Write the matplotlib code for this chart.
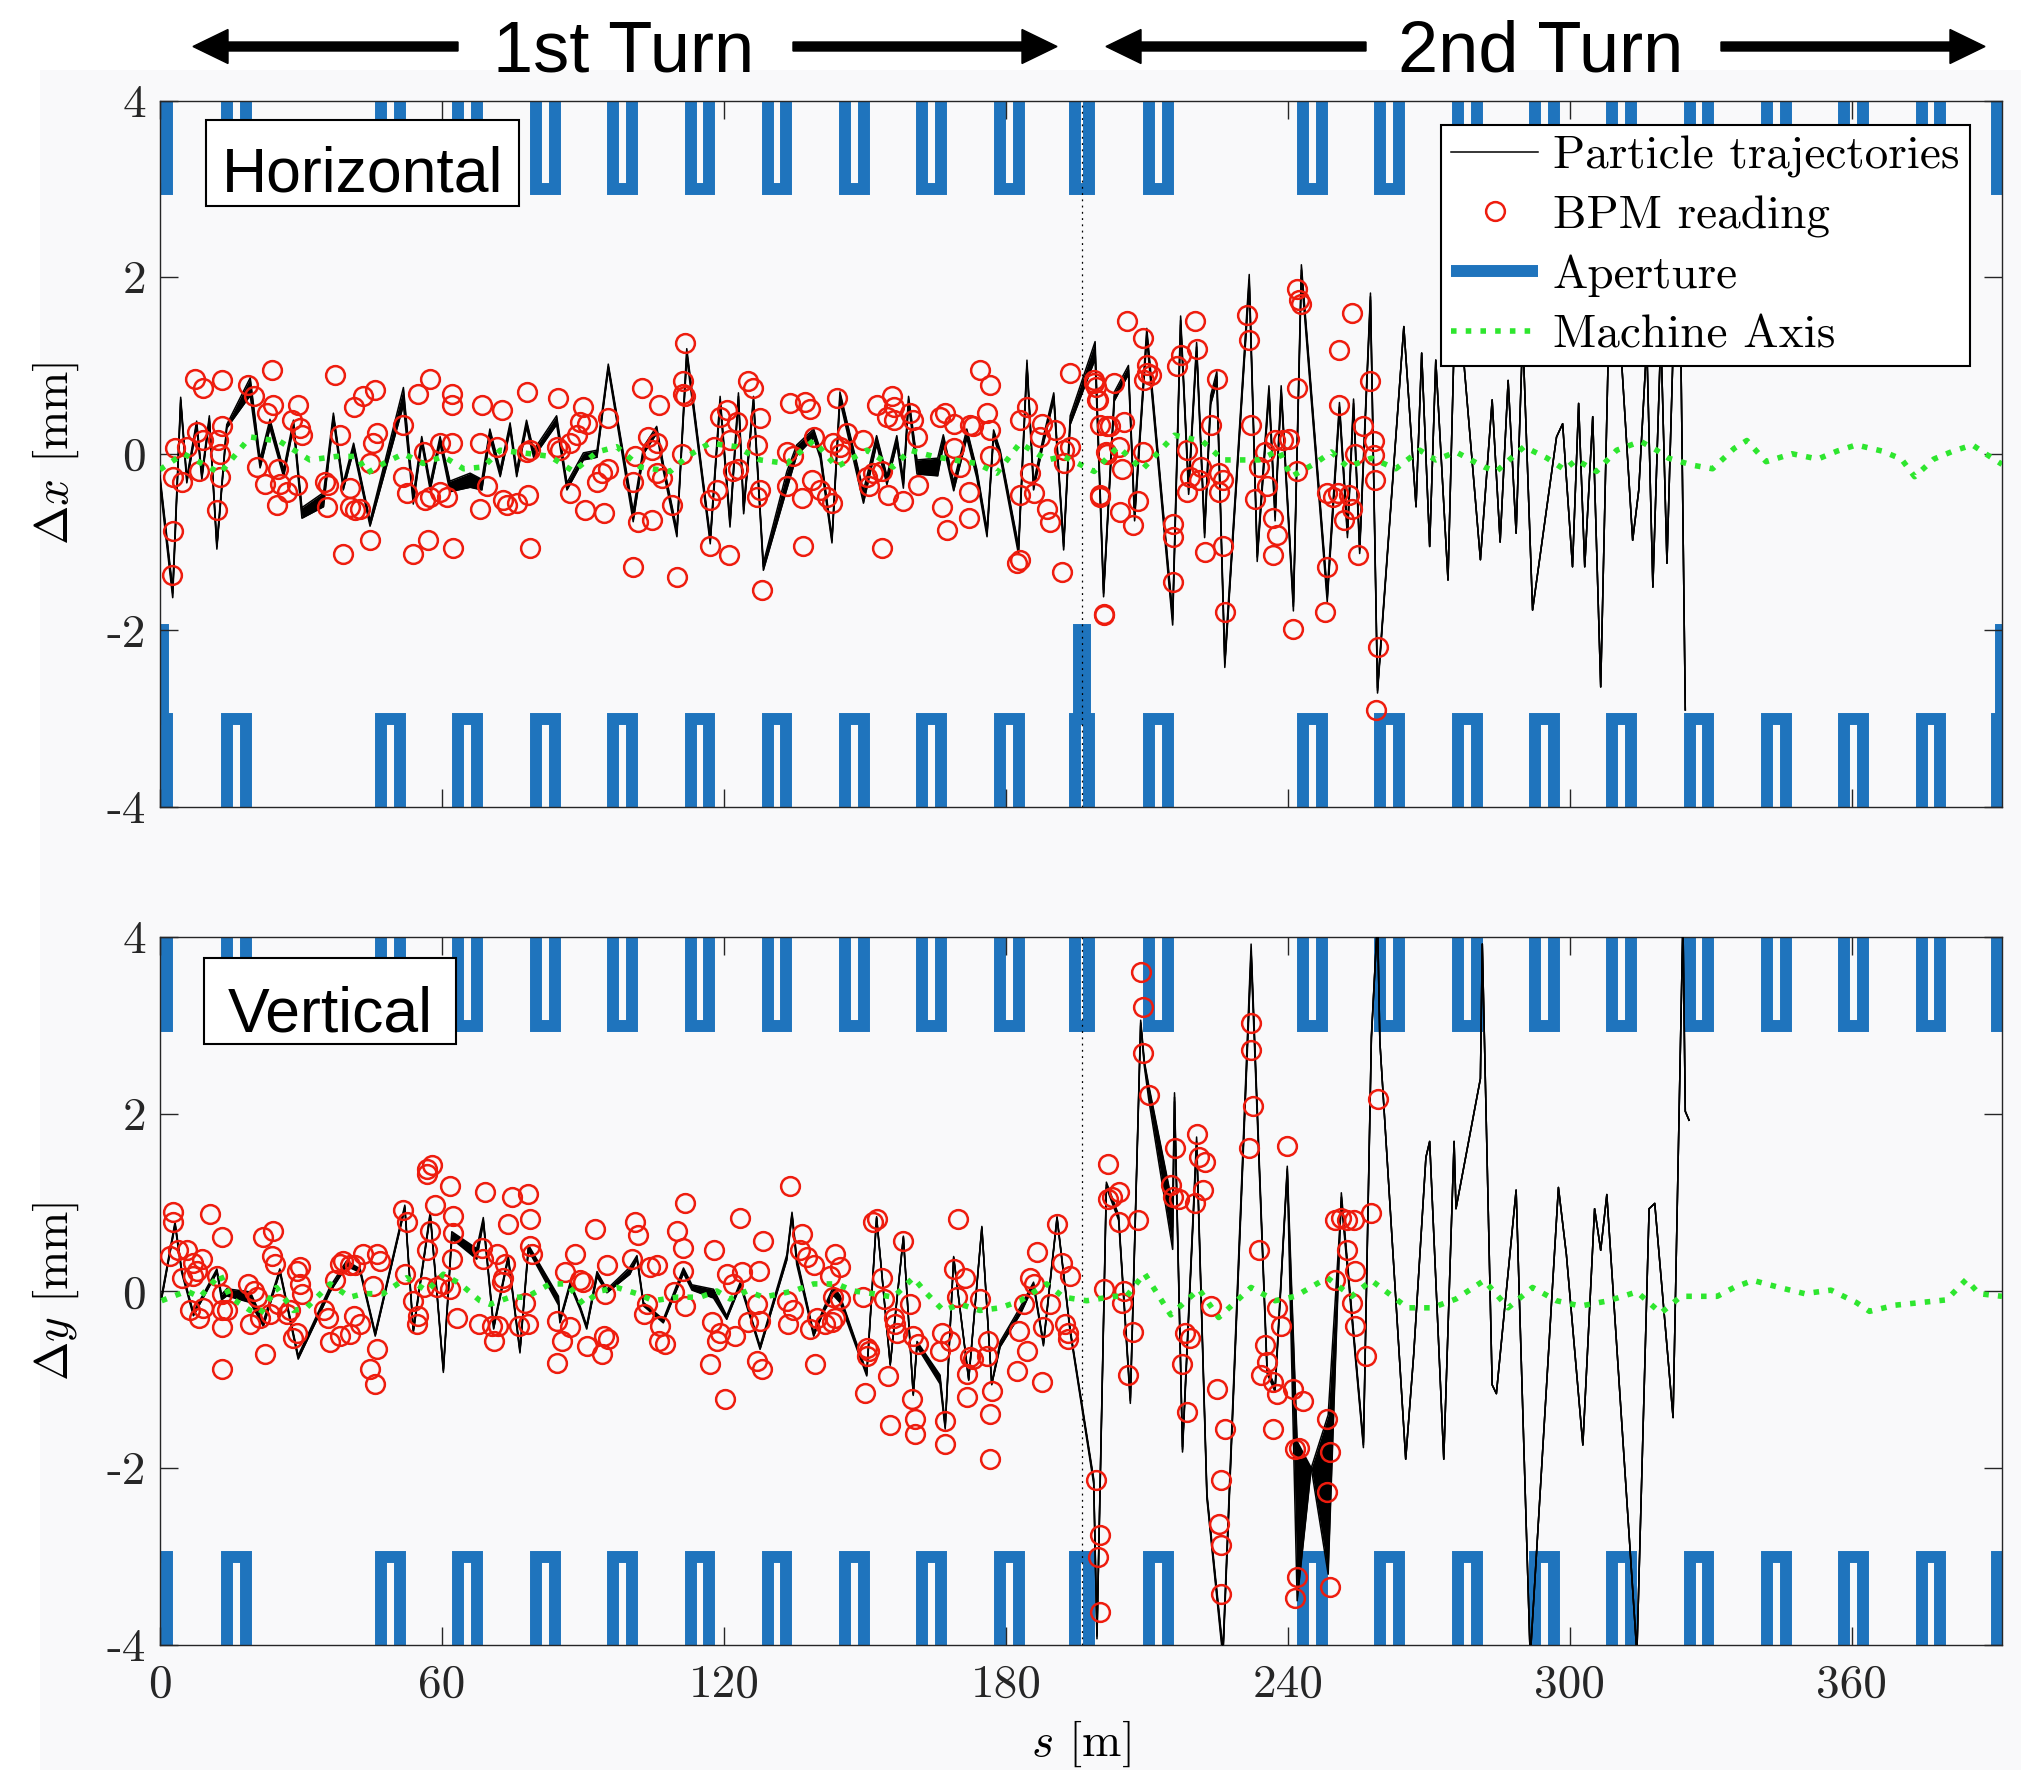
import numpy as np
import matplotlib
matplotlib.use('Agg')
import matplotlib.pyplot as plt
from matplotlib.patches import Rectangle, FancyArrow
from matplotlib.transforms import IdentityTransform

plt.rcParams['mathtext.fontset'] = 'cm'
plt.rcParams['axes.unicode_minus'] = False

SERIF = 'cmr10'
SANS = 'Liberation Sans'
BLUE = '#1f74bd'
GREEN = '#2ee62e'
BG = '#f9f9fa'

# ------------------------------------------------------------------ data
RING_C = 196.2          # ring circumference [m]
S_MAX = 392.0
mag_centres = [16.3, 49.0, 65.5, 82.0, 98.4, 114.9, 131.3, 147.8, 164.2, 180.7]
mag_half_len = 2.0
inj_half_len = 1.45
septum_half_len = 0.7
ap_mag = 3.0
ap_inj = 3.0
ap_septum_h = 2.0

x_ticks = [0, 60, 120, 180, 240, 300, 360]
x_ticklabels = ['0', '60', '120', '180', '240', '300', '360']
y_ticks = [-4, -2, 0, 2, 4]
y_ticklabels = ['-4', '-2', '0', '2', '4']

# trajectory bundle: (s, centre value, half spread of the bundle)
traj_h = [
    (0.0, -0.30, 0.05), (2.7, -1.58, 0.05), (4.4, 0.61, 0.03), (5.7, -0.30, 0.03),
    (7.8, 0.34, 0.03), (8.9, -0.26, 0.03), (10.5, 0.40, 0.03), (12.1, -1.05, 0.03),
    (14.2, 0.31, 0.02), (19.2, 0.76, 0.10), (21.3, -0.11, 0.05), (23.4, 0.34, 0.05),
    (26.3, -0.22, 0.04), (28.4, 0.34, 0.04), (30.2, -0.67, 0.06), (34.8, -0.52, 0.08),
    (36.9, 0.42, 0.04), (39.0, -0.37, 0.04), (41.2, 0.08, 0.04), (44.7, -0.79, 0.03),
    (51.8, 0.65, 0.10), (53.9, -0.52, 0.05), (55.7, 0.155, 0.04), (57.5, -0.37, 0.04),
    (59.6, 0.155, 0.04), (61.7, -0.37, 0.06), (66.0, -0.30, 0.08), (68.5, -0.35, 0.06),
    (70.2, 0.23, 0.05), (72.4, -0.22, 0.04), (74.5, 0.31, 0.04), (75.9, -0.22, 0.04),
    (78.0, 0.34, 0.04), (79.5, 0.0, 0.04), (84.4, 0.38, 0.05), (86.6, -0.37, 0.04),
    (90.1, -0.03, 0.04), (93.0, 0.0, 0.04), (95.4, 0.985, 0.03), (100.7, -0.71, 0.06),
    (102.9, 0.04, 0.04), (105.7, 0.27, 0.04), (107.1, -0.15, 0.04), (110.0, -0.90, 0.04),
    (112.1, 1.14, 0.05), (117.1, -0.98, 0.04), (119.2, 0.61, 0.04), (121.3, -0.79, 0.04),
    (123.1, 0.65, 0.04), (124.2, -0.64, 0.04), (126.3, 0.61, 0.04), (128.4, -1.28, 0.04),
    (133.4, -0.30, 0.10), (135.5, 0.04, 0.06), (139.1, 0.23, 0.05), (140.5, 0.0, 0.05),
    (143.0, -0.98, 0.03), (144.7, 0.65, 0.05), (149.7, -0.49, 0.07), (152.5, 0.155, 0.05),
    (154.7, -0.30, 0.05), (156.8, 0.155, 0.05), (158.2, -0.34, 0.05), (159.3, 0.61, 0.04),
    (161.1, -0.15, 0.08), (165.5, -0.15, 0.10), (166.7, 0.155, 0.06), (168.9, -0.37, 0.05),
    (171.7, 0.23, 0.05), (173.8, -0.22, 0.05), (176.0, -0.90, 0.04), (177.4, 0.23, 0.04),
    (178.8, 0.0, 0.04), (182.7, -1.09, 0.05), (184.5, 1.02, 0.04), (185.9, -0.37, 0.04),
    (188.0, 0.155, 0.04), (190.2, 0.65, 0.04), (192.3, -1.05, 0.04), (193.7, 0.38, 0.05),
    (199.0, 1.17, 0.10), (200.8, -1.58, 0.04), (203.1, 0.65, 0.05), (206.1, 0.95, 0.05),
    (207.4, -0.71, 0.05), (210.0, 1.36, 0.06), (215.5, -1.88, 0.06), (217.2, 1.51, 0.05),
    (218.9, -0.41, 0.05), (220.6, 1.21, 0.05), (222.3, -0.90, 0.05), (223.6, 0.61, 0.05),
    (224.9, 0.87, 0.06), (226.6, -2.37, 0.05), (231.8, 1.97, 0.06), (233.5, -1.17, 0.05),
    (236.0, 0.72, 0.05), (237.3, -0.71, 0.05), (238.6, 0.72, 0.05), (241.2, -1.73, 0.05),
    (242.9, 2.08, 0.06), (248.4, -1.62, 0.06), (251.0, 0.53, 0.05), (252.7, -0.90, 0.05),
    (254.0, 0.57, 0.05), (255.3, -1.09, 0.04), (257.6, 1.78, 0.04), (259.1, -2.68, 0.03),
    (264.7, 1.44, 0.0), (267.3, -0.60, 0.0), (268.5, 1.14, 0.0), (270.2, -1.05, 0.0),
    (271.5, 1.06, 0.0), (274.1, -1.43, 0.0), (275.4, 1.25, 0.0), (277.5, 1.02, 0.0),
    (281.0, -1.20, 0.0), (283.5, 0.61, 0.0), (285.2, -1.00, 0.0), (286.9, 0.83, 0.0),
    (288.6, -0.90, 0.0), (290.0, 1.36, 0.0), (292.1, -1.77, 0.0), (297.2, 0.19, 0.0),
    (298.5, 0.34, 0.0), (300.6, -1.28, 0.0), (301.9, 0.57, 0.0), (303.2, -1.28, 0.0),
    (304.9, 0.42, 0.0), (306.6, -2.64, 0.0), (308.3, 1.36, 0.0), (310.9, 1.17, 0.0),
    (313.4, -0.98, 0.0), (314.7, -0.41, 0.0), (316.4, 1.25, 0.0), (317.7, -1.51, 0.0),
    (319.4, 1.36, 0.0), (320.7, -1.24, 0.0), (322.0, 1.17, 0.0), (323.7, 0.99, 0.0),
    (324.6, -2.90, 0.0),
]

traj_v = [
    (0.35, -0.07, 0.02), (3.2, 0.76, 0.02), (4.6, 0.23, 0.02), (7.1, -0.26, 0.02),
    (10.6, 0.08, 0.02), (12.1, 0.23, 0.02), (13.1, -0.07, 0.03), (14.2, -0.015, 0.04),
    (19.2, -0.07, 0.06), (22.0, -0.37, 0.03), (25.5, 0.23, 0.02), (29.4, -0.75, 0.02),
    (36.2, 0.02, 0.03), (39.7, 0.31, 0.03), (42.6, 0.23, 0.02), (45.8, -0.49, 0.02),
    (52.1, 0.95, 0.02), (53.9, -0.45, 0.02), (56.4, 0.46, 0.02), (57.5, 0.87, 0.02),
    (58.9, 0.0, 0.02), (60.3, -0.90, 0.02), (62.1, 0.63, 0.04), (67.4, 0.42, 0.06),
    (68.8, 0.80, 0.03), (71.0, -0.41, 0.02), (74.1, 0.38, 0.02), (76.6, -0.68, 0.02),
    (78.4, 0.49, 0.03), (84.8, -0.11, 0.05), (85.1, -0.34, 0.02), (87.3, 0.08, 0.02),
    (89.4, -0.19, 0.02), (90.8, -0.41, 0.02), (93.0, 0.19, 0.03), (95.1, 0.0, 0.02),
    (100.0, 0.23, 0.04), (101.5, 0.38, 0.02), (102.9, -0.15, 0.02), (107.1, -0.34, 0.02),
    (111.4, 0.23, 0.03), (113.2, 0.04, 0.03), (117.8, -0.03, 0.05), (120.6, -0.30, 0.02),
    (123.5, 0.08, 0.02), (127.7, -0.64, 0.02), (133.4, 0.38, 0.03), (134.5, 0.87, 0.02),
    (135.5, 0.34, 0.04), (139.1, -0.49, 0.02), (141.2, -0.22, 0.02), (143.3, 0.0, 0.05),
    (144.7, -0.09, 0.04), (150.4, -0.94, 0.02), (152.5, 0.83, 0.01), (155.4, -0.83, 0.01),
    (158.2, 0.61, 0.01), (160.3, -1.17, 0.01), (161.1, -0.60, 0.03), (166.0, -1.00, 0.05),
    (167.1, -1.54, 0.02), (168.9, 0.38, 0.01), (172.1, -1.00, 0.01), (174.9, 0.72, 0.01),
    (177.0, -1.05, 0.01), (178.8, -0.60, 0.03), (183.1, -0.22, 0.04), (185.9, 0.08, 0.02),
    (188.0, -0.60, 0.02), (190.9, 0.83, 0.01), (193.7, -0.45, 0.02), (198.7, -2.15, 0.03),
    (199.4, -3.90, 0.03), (201.4, 1.20, 0.03), (204.0, 0.83, 0.03), (206.5, -1.24, 0.03),
    (208.7, 3.03, 0.03), (209.5, 2.56, 0.03), (210.4, 2.25, 0.08), (215.5, 0.72, 0.25),
    (215.9, 2.19, 0.05), (217.6, -1.79, 0.03), (220.6, 1.69, 0.05), (222.8, -2.32, 0.03),
    (226.2, -4.10, 0.05), (232.2, 3.84, 0.08), (235.6, -0.90, 0.03), (237.3, -1.11, 0.03),
    (239.9, 1.38, 0.03), (242.0, -2.60, 0.90), (245.0, -2.00, 0.0), (248.6, -2.30, -0.90),
    (251.4, 1.06, 0.05), (256.1, -1.74, 0.03), (257.8, 2.87, 0.02), (259.1, 4.20, 0.0),
    (259.6, 2.82, 0.0), (265.1, -1.90, 0.0), (266.8, -0.72, 0.0), (269.4, 1.51, 0.0),
    (270.2, 1.69, 0.0), (273.2, -1.90, 0.0), (275.4, 1.69, 0.0), (275.8, 0.93, 0.0),
    (281.0, 2.40, 0.0), (281.4, 3.92, 0.0), (283.5, -1.06, 0.0), (284.4, -1.16, 0.0),
    (288.6, 1.14, 0.0), (291.6, -4.15, 0.0), (297.6, 1.17, 0.0), (299.3, 0.41, 0.0),
    (302.8, -1.74, 0.0), (305.3, 0.93, 0.0), (306.6, 0.46, 0.0), (307.9, 1.09, 0.0),
    (314.3, -4.10, 0.0), (316.9, 0.93, 0.0), (318.1, 0.99, 0.0), (322.0, -1.43, 0.0),
    (324.1, 4.20, 0.0), (324.6, 2.03, 0.0), (325.4, 1.93, 0.0),
]

bpm_h = [
    (7.4, 0.85), (9.2, 0.74), (13.1, 0.83), (18.8, 0.78), (19.9, 0.65), (23.8, 0.95),
    (24.1, 0.55), (22.7, 0.46), (29.4, 0.55), (28.0, 0.38), (29.8, 0.29), (30.2, 0.21),
    (37.2, 0.89), (41.2, 0.53), (43.3, 0.65), (45.8, 0.72), (55.0, 0.68), (57.5, 0.85),
    (62.1, 0.68), (62.1, 0.55), (68.5, 0.55), (72.7, 0.50), (78.0, 0.70), (84.8, 0.63),
    (90.1, 0.53), (89.4, 0.36), (90.8, 0.34), (95.4, 0.40),
    (3.2, 0.06), (5.7, 0.08), (7.8, 0.25), (9.2, 0.155), (13.1, 0.31), (12.4, 0.155),
    (12.8, 0.0), (2.8, -0.26), (4.6, -0.32), (8.2, -0.20), (12.8, -0.26), (20.6, -0.15),
    (22.4, -0.34), (25.2, -0.17), (25.5, -0.34), (27.0, -0.43), (29.1, -0.35), (24.8, -0.58),
    (12.1, -0.64), (2.8, -0.88), (2.5, -1.37),
    (38.3, 0.21), (35.1, -0.32), (35.8, -0.35), (35.5, -0.60), (40.4, -0.39), (40.4, -0.60),
    (41.5, -0.64), (42.6, -0.62), (44.7, -0.98), (39.0, -1.13), (46.1, 0.23), (45.4, 0.12),
    (44.7, -0.11), (51.8, 0.32), (51.8, -0.26), (52.5, -0.45), (53.9, -1.13), (56.4, -0.52),
    (57.1, -0.98), (57.5, -0.49), (59.6, -0.43), (61.0, -0.49), (56.1, 0.02), (59.6, 0.12),
    (62.1, 0.12), (62.4, -1.07), (68.1, 0.12), (68.1, -0.62), (69.5, -0.37), (71.7, 0.08),
    (73.1, -0.52), (73.8, -0.58), (75.9, -0.56), (78.0, 0.02), (78.8, 0.04), (78.8, -1.07),
    (78.4, -0.47), (84.4, 0.08), (85.1, 0.04), (87.3, -0.45), (90.5, -0.64), (94.4, -0.67),
    (93.0, -0.32), (94.0, -0.22), (95.4, -0.17), (87.3, 0.12), (88.7, 0.21),
    (111.7, 1.25), (102.5, 0.74), (106.1, 0.55), (111.4, 0.82), (111.4, 0.68), (111.7, 0.65),
    (125.2, 0.82), (126.3, 0.74), (134.1, 0.57), (137.3, 0.59), (138.4, 0.51), (144.0, 0.63),
    (152.5, 0.55), (155.7, 0.65), (156.1, 0.53), (154.7, 0.42), (156.1, 0.38), (159.6, 0.46),
    (160.3, 0.38), (166.0, 0.42), (167.1, 0.46), (168.9, 0.34), (174.5, 0.95), (176.7, 0.78),
    (176.0, 0.46), (176.7, 0.27), (172.4, 0.33), (173.1, 0.31), (184.5, 0.53), (183.1, 0.38),
    (193.7, 0.91), (198.7, 0.80), (199.4, 0.61), (187.7, 0.34), (190.5, 0.27), (200.1, 0.32),
    (103.9, 0.19), (101.1, -0.02), (100.7, -0.32), (105.7, 0.12), (104.7, 0.04), (105.7, -0.22),
    (106.8, -0.28), (111.0, 0.0), (119.2, 0.42), (120.6, 0.50), (122.7, 0.36), (127.7, 0.40),
    (127.0, 0.10), (117.8, 0.08), (121.3, 0.155), (122.0, -0.19), (123.1, -0.17), (117.1, -0.52),
    (118.5, -0.41), (127.7, -0.41), (127.0, -0.49), (108.9, -0.58), (101.8, -0.77), (104.7, -0.75),
    (100.7, -1.28), (110.0, -1.39), (117.1, -1.05), (121.0, -1.15), (128.1, -1.54),
    (133.4, 0.02), (134.8, -0.03), (139.1, 0.19), (133.4, -0.37), (136.6, -0.50), (138.7, -0.30),
    (140.5, -0.41), (141.9, -0.49), (143.0, -0.56), (143.3, 0.12), (144.7, 0.08), (144.7, 0.0),
    (136.9, -1.05), (146.2, 0.23), (149.7, 0.155), (150.4, -0.26), (151.8, -0.22), (153.6, -0.19),
    (150.8, -0.37), (155.0, -0.47), (158.2, -0.54), (153.6, -1.07), (161.1, 0.19), (161.4, -0.35),
    (166.4, -0.60), (167.4, -0.86), (168.9, 0.06), (170.3, -0.15), (172.1, -0.43), (172.1, -0.73),
    (176.7, -0.03), (183.1, -0.47), (185.9, -0.45), (182.3, -1.24), (183.1, -1.20), (185.2, -0.22),
    (187.3, 0.19), (188.7, -0.62), (189.4, -0.77), (192.3, 0.04), (193.7, 0.08), (192.3, -0.11),
    (191.9, -1.34), (200.1, -0.49), (200.8, -1.83), (201.5, 0.31), (201.5, 0.0),
    (198.8, 0.84), (199.2, 0.76), (199.7, 0.61), (203.1, 0.80), (205.7, 1.50), (209.1, 1.31),
    (210.0, 1.00), (210.0, 0.91), (209.5, 0.83), (210.8, 0.89), (217.2, 1.12), (216.4, 0.99),
    (220.2, 1.50), (220.6, 1.19), (231.3, 1.57), (231.7, 1.29), (242.0, 1.87), (242.4, 1.74),
    (242.9, 1.70), (253.6, 1.59), (251.0, 1.17), (257.4, 0.82), (224.9, 0.85), (242.0, 0.74),
    (251.0, 0.55), (223.6, 0.32), (232.2, 0.32), (202.2, 0.31), (205.2, 0.36), (201.4, 0.02),
    (204.0, 0.08), (209.1, 0.02), (204.8, -0.17), (218.5, 0.04), (219.3, -0.26), (221.5, -0.15),
    (221.1, -0.30), (225.3, -0.22), (226.2, -0.30), (225.3, -0.43), (218.5, -0.43), (200.1, -0.47),
    (204.4, -0.66), (207.0, -0.81), (208.2, -0.54), (215.5, -0.79), (215.5, -0.94), (215.5, -1.45),
    (201.0, -1.81), (222.3, -1.11), (226.2, -1.05), (226.6, -1.79), (233.0, -0.51), (235.6, -0.37),
    (233.9, -0.15), (235.2, 0.02), (237.3, 0.16), (239.0, 0.16), (240.3, 0.17), (242.0, -0.20),
    (236.9, -0.73), (237.7, -0.92), (236.9, -1.15), (241.2, -1.99), (248.4, -0.45), (249.7, -0.49),
    (250.6, -0.45), (253.1, -0.47), (253.6, -0.62), (251.9, -0.75), (248.4, -1.28), (248.0, -1.79),
    (254.4, 0.0), (254.9, -1.15), (256.1, 0.31), (258.3, 0.14), (258.3, -0.01), (258.5, -0.30),
    (259.1, -2.19), (258.7, -2.90),
]

bpm_v = [
    (2.8, 0.89), (2.8, 0.78), (10.6, 0.87), (13.1, 0.61), (22.0, 0.61), (24.1, 0.68),
    (23.8, 0.40), (24.5, 0.31), (2.1, 0.40), (3.9, 0.46), (5.7, 0.46), (7.1, 0.32),
    (8.9, 0.36), (7.8, 0.23), (7.1, 0.17), (4.6, 0.15), (12.1, 0.17), (13.1, -0.03),
    (6.4, -0.22), (8.2, -0.30), (9.2, -0.19), (13.1, -0.22), (14.2, -0.22), (13.1, -0.41),
    (13.1, -0.88), (18.8, 0.08), (19.9, 0.0), (20.6, -0.07), (19.2, -0.37), (21.3, -0.30),
    (23.4, -0.26), (22.4, -0.71), (25.2, -0.15), (27.0, -0.26), (27.7, -0.22), (29.1, 0.23),
    (29.8, 0.27), (29.8, 0.08), (30.2, -0.03), (28.4, -0.53), (29.1, -0.47), (34.8, -0.22),
    (35.8, -0.30), (36.2, -0.58), (37.2, 0.12), (38.3, 0.31), (39.0, 0.34), (40.4, 0.29),
    (41.5, 0.29), (43.3, 0.42), (46.1, 0.42), (46.8, 0.34), (38.3, -0.51), (40.4, -0.49),
    (41.2, -0.28), (42.6, -0.37), (45.4, 0.06), (46.1, -0.66), (44.7, -0.88), (45.8, -1.05),
    (51.8, 0.91), (52.5, 0.78), (52.2, 0.19), (53.9, -0.11), (55.0, -0.28), (54.6, -0.37),
    (56.8, 1.38), (57.8, 1.42), (56.8, 1.32), (61.7, 1.19), (58.5, 0.97), (57.5, 0.68),
    (56.8, 0.46), (56.1, 0.04), (58.9, 0.04), (60.3, 0.08), (62.4, 0.85), (62.4, 0.66),
    (62.1, 0.36), (61.7, 0.02), (63.1, -0.30), (69.2, 1.12), (74.9, 1.06), (78.4, 1.10),
    (78.8, 0.81), (74.1, 0.76), (68.5, 0.49), (68.8, 0.36), (71.7, 0.42), (73.4, 0.31),
    (73.1, 0.15), (72.7, 0.10), (78.8, 0.51), (79.1, 0.42), (67.8, -0.37), (70.6, -0.39),
    (72.0, -0.39), (71.0, -0.56), (76.3, -0.39), (78.4, -0.37), (77.7, -0.13), (84.4, -0.34),
    (87.3, -0.41), (85.5, -0.56), (84.4, -0.81), (86.2, 0.21), (88.3, 0.42), (89.4, 0.12),
    (90.1, 0.10), (92.6, 0.70), (95.1, 0.29), (94.7, -0.03), (90.8, -0.62), (94.0, -0.71),
    (94.4, -0.51), (95.4, -0.54),
    (101.1, 0.78), (101.8, 0.63), (100.4, 0.36), (104.3, 0.27), (105.7, 0.29), (103.6, -0.15),
    (102.9, -0.26), (106.4, -0.39), (106.1, -0.56), (107.5, -0.60), (111.7, 1.00), (110.0, 0.68),
    (111.4, 0.49), (111.4, 0.23), (109.3, -0.015), (111.7, -0.17), (117.8, 0.46), (120.6, 0.19),
    (122.0, 0.08), (123.8, 0.21), (123.5, 0.83), (128.4, 0.57), (127.4, 0.23), (117.4, -0.35),
    (119.2, -0.47), (118.5, -0.56), (122.4, -0.51), (117.1, -0.83), (120.3, -1.22), (125.2, -0.35),
    (127.0, -0.15), (127.7, -0.34), (127.0, -0.79), (128.1, -0.88), (134.1, 1.19), (136.6, 0.64),
    (136.2, 0.46), (137.6, 0.38), (139.1, 0.29), (133.4, -0.11), (134.8, -0.22), (133.7, -0.37),
    (138.4, -0.43), (139.8, -0.30), (141.5, -0.37), (139.4, -0.83), (143.7, 0.42), (144.7, 0.27),
    (142.6, 0.17), (143.3, -0.07), (144.7, -0.09), (143.7, -0.30), (143.0, -0.35), (152.5, 0.81),
    (151.8, 0.78), (153.6, 0.15), (154.0, -0.09), (149.7, -0.07), (150.4, -0.64), (150.8, -0.68),
    (150.4, -0.73), (150.1, -1.15), (158.2, 0.57), (156.1, -0.30), (156.4, -0.37), (156.8, -0.47),
    (159.6, -0.15), (160.3, -0.51), (161.4, -0.60), (155.0, -0.96), (160.0, -1.22), (160.7, -1.45),
    (160.7, -1.62), (155.4, -1.51), (169.9, 0.81), (168.9, 0.25), (171.3, 0.15), (169.6, -0.07),
    (174.5, -0.09), (166.4, -0.47), (168.2, -0.56), (166.0, -0.68), (167.1, -1.47), (167.1, -1.73),
    (171.7, -0.94), (171.7, -1.20), (172.4, -0.75), (173.1, -0.77), (176.0, -0.73), (176.3, -0.56),
    (177.0, -1.13), (176.7, -1.39), (176.7, -1.90), (182.7, -0.45), (182.3, -0.90), (184.5, -0.68),
    (183.8, -0.15), (185.2, 0.15), (186.6, 0.44), (185.9, 0.08), (187.7, -1.03), (190.9, 0.76),
    (191.9, 0.32), (193.7, 0.17), (189.4, -0.15), (188.0, -0.41), (192.6, -0.37), (193.3, -0.47),
    (193.3, -0.54),
    (208.7, 3.61), (209.1, 3.21), (209.1, 2.69), (210.4, 2.22), (201.8, 1.43), (201.8, 1.04),
    (202.7, 1.06), (204.0, 1.12), (204.0, 0.78), (208.2, 0.80), (201.0, 0.02), (205.2, 0.0),
    (204.8, -0.14), (207.0, -0.46), (206.1, -0.95), (199.2, -2.13), (200.1, -2.76), (199.7, -3.00),
    (200.1, -3.63), (215.9, 1.62), (215.1, 1.20), (215.5, 1.06), (216.8, 1.04), (220.6, 1.77),
    (221.1, 1.51), (222.3, 1.46), (221.9, 1.14), (220.2, 0.99), (223.6, -0.17), (218.1, -0.48),
    (219.3, -0.53), (217.6, -0.82), (218.5, -1.37), (232.2, 3.03), (232.2, 2.72), (232.6, 2.09),
    (231.8, 1.62), (239.9, 1.64), (233.9, 0.46), (224.9, -1.11), (226.6, -1.56), (225.8, -2.13),
    (225.3, -2.63), (225.8, -2.87), (225.8, -3.42), (237.7, -0.19), (238.6, -0.40), (235.2, -0.61),
    (235.6, -0.80), (234.3, -0.95), (236.9, -1.03), (237.7, -1.16), (236.9, -1.56), (241.2, -1.11),
    (243.3, -1.24), (241.6, -1.79), (242.4, -1.77), (248.4, -1.45), (248.9, -1.82), (248.4, -2.27),
    (242.0, -3.23), (241.6, -3.47), (248.9, -3.34), (250.1, 0.80), (251.4, 0.83), (252.7, 0.80),
    (254.0, 0.80), (252.7, 0.46), (254.4, 0.23), (250.1, 0.12), (253.6, -0.14), (254.4, -0.40),
    (256.6, -0.74), (257.8, 0.88), (259.1, 2.17),
]

axis_h = [
    (0.0, -0.18), (5.0, 0.0), (12.8, -0.22), (19.2, 0.19), (25.5, 0.14), (31.9, -0.07),
    (37.6, -0.03), (42.0, -0.03), (44.0, -0.22), (47.6, -0.11), (51.8, 0.0), (56.0, -0.11),
    (60.3, -0.03), (64.6, -0.17), (68.8, -0.15), (72.4, 0.04), (78.8, 0.0), (83.0, -0.03),
    (88.0, -0.20), (93.0, 0.02), (97.2, 0.08), (102.2, -0.15), (108.6, -0.20), (112.2, -0.03),
    (117.0, 0.12), (122.7, 0.08), (127.7, -0.07), (133.4, -0.11), (139.1, 0.15), (144.0, -0.15),
    (150.4, 0.04), (156.0, -0.15), (159.6, 0.04), (164.6, -0.03), (168.9, -0.07), (173.8, -0.11),
    (178.1, -0.22), (183.0, 0.12), (188.8, -0.07), (192.3, -0.03), (198.8, -0.20), (203.9, 0.08),
    (209.0, -0.18), (215.9, 0.21), (221.9, 0.14), (226.2, -0.07), (233.9, -0.07), (238.1, 0.04),
    (240.7, -0.26), (245.8, -0.11), (249.3, 0.02), (252.7, -0.15), (257.8, -0.05), (263.0, -0.17),
    (268.1, 0.04), (271.5, -0.07), (275.8, 0.02), (281.8, -0.15), (284.4, -0.20), (290.3, 0.08),
    (295.2, -0.05), (298.9, -0.18), (301.4, -0.07), (305.7, -0.20), (310.0, 0.04), (315.1, 0.14),
    (318.5, 0.04), (321.0, -0.05), (326.2, -0.13), (330.4, -0.17), (335.0, 0.06), (337.7, 0.15),
    (341.8, -0.09), (347.3, 0.0), (352.8, -0.06), (356.9, 0.03), (361.0, 0.10), (366.5, 0.03),
    (370.6, -0.06), (373.4, -0.26), (377.5, -0.06), (381.6, 0.03), (385.7, 0.10), (388.5, 0.0),
    (392.0, -0.12),
]

axis_v = [
    (0.35, -0.11), (5.7, 0.0), (8.5, -0.07), (12.8, 0.19), (14.9, -0.07), (19.2, -0.22),
    (21.3, -0.26), (24.8, 0.04), (28.4, -0.22), (31.2, -0.19), (36.2, 0.08), (40.4, -0.07),
    (43.3, -0.03), (47.5, -0.03), (52.5, 0.15), (56.8, 0.0), (60.3, 0.19), (63.9, 0.08),
    (68.1, -0.11), (70.2, -0.15), (74.5, -0.07), (78.0, -0.07), (83.0, 0.08), (86.6, 0.08),
    (90.1, -0.15), (93.7, 0.0), (97.2, 0.04), (101.5, -0.03), (105.0, -0.11), (110.0, -0.07),
    (114.9, -0.07), (118.5, 0.0), (121.3, -0.09), (124.9, 0.0), (128.4, -0.07), (134.8, 0.0),
    (139.1, 0.08), (144.0, 0.08), (147.6, 0.0), (151.8, -0.03), (156.1, -0.07), (160.3, 0.15),
    (163.2, -0.03), (166.7, -0.22), (170.3, -0.15), (174.5, -0.22), (178.8, -0.19), (183.1, -0.11),
    (188.7, 0.08), (192.3, -0.07), (197.2, -0.11), (203.1, -0.06), (205.7, -0.06), (209.5, 0.20),
    (215.1, -0.27), (221.1, 0.02), (225.3, -0.30), (232.2, 0.04), (237.3, -0.11), (241.6, -0.06),
    (248.4, 0.15), (253.6, -0.06), (257.8, 0.12), (265.5, -0.19), (270.7, -0.19), (275.8, -0.09),
    (281.8, 0.12), (286.9, -0.19), (292.1, 0.04), (297.2, -0.11), (302.3, -0.17), (308.3, -0.11),
    (314.3, -0.01), (319.4, -0.25), (323.7, -0.06), (331.4, -0.06), (335.0, 0.04), (339.0, 0.12),
    (344.6, 0.04), (350.0, -0.03), (355.6, 0.01), (361.0, -0.13), (363.8, -0.23), (369.3, -0.16),
    (374.8, -0.13), (380.2, -0.10), (384.4, 0.13), (387.1, -0.03), (392.0, -0.06),
]


# ------------------------------------------------------------------ helpers
def lattice(inj_steps, mag_steps):
    els = []
    for turn in range(2):
        els.append((turn * RING_C, inj_steps))
        for m in mag_centres:
            els.append((turn * RING_C + m, mag_steps))
    els.append((2 * RING_C, inj_steps))
    return els


def aperture_path(elements, far):
    xs, ys = [], []
    for c, steps in elements:
        prev = far
        for h, lev in steps:
            xs += [c - h, c - h]
            ys += [prev, lev]
            prev = lev
        for i in range(len(steps) - 1, -1, -1):
            h, lev = steps[i]
            nxt = steps[i - 1][1] if i > 0 else far
            xs += [c + h, c + h]
            ys += [lev, nxt]
    return np.array(xs), np.array(ys)


apertures = {
    'h': (lattice([(inj_half_len, ap_inj)], [(mag_half_len, ap_mag)]),
          lattice([(inj_half_len, -ap_inj), (septum_half_len, -ap_septum_h)],
                  [(mag_half_len, -ap_mag)])),
    'v': (lattice([(inj_half_len, ap_inj)], [(mag_half_len, ap_mag)]),
          lattice([(inj_half_len, -ap_inj)], [(mag_half_len, -ap_mag)])),
}

# ------------------------------------------------------------------ figure
W, H = 2021, 1770
fig = plt.figure(figsize=(W / 100, H / 100), dpi=100)
fig.patch.set_facecolor('white')
fig.add_artist(Rectangle((40 / W, 0), 1 - 40 / W, 1 - 70 / H, transform=fig.transFigure,
                         facecolor=BG, edgecolor='none', zorder=-10))

ax_h = fig.add_axes([160 / W, 1 - 807 / H, 1842 / W, 706.5 / H])
ax_v = fig.add_axes([160 / W, 1 - 1645 / H, 1842 / W, 708 / H])

panels = [(ax_h, 'h', traj_h, bpm_h, axis_h, r'$\Delta x$ [mm]'),
          (ax_v, 'v', traj_v, bpm_v, axis_v, r'$\Delta y$ [mm]')]

legend_handles = None
for ax, key, traj, bpm, axis, ylab in panels:
    ax.set_facecolor(BG)
    top_els, bot_els = apertures[key]
    ax_line = None
    for els, far in ((top_els, 10.0), (bot_els, -10.0)):
        xs, ys = aperture_path(els, far)
        ln, = ax.plot(xs, ys, color=BLUE, lw=8.6, solid_joinstyle='miter',
                      solid_capstyle='butt', zorder=1)
        if ax_line is None:
            ax_line = ln
    t = np.array(traj)
    ax.fill_between(t[:, 0], t[:, 1] - t[:, 2], t[:, 1] + t[:, 2], color='black',
                    lw=0, zorder=2.9)
    tr_line = None
    for k in (-1.0, 0.0, 1.0):
        ln, = ax.plot(t[:, 0], t[:, 1] + k * t[:, 2], color='black', lw=1.1, zorder=3)
        if tr_line is None:
            tr_line = ln
    b = np.array(bpm)
    bp_line, = ax.plot(b[:, 0], b[:, 1], 'o', mfc='none', mec='#ee1c0e', ms=13.5,
                       mew=1.8, zorder=4)
    a = np.array(axis)
    ma_line, = ax.plot(a[:, 0], a[:, 1], ls=':', color=GREEN, lw=4.0, zorder=5)
    ax.axvline(RING_C, color='black', lw=0.9, ls=(0, (1.5, 3.5)), zorder=6)

    ax.set_xlim(0, S_MAX)
    ax.set_ylim(-4, 4)
    ax.set_xticks(x_ticks)
    ax.set_yticks(y_ticks)
    ax.set_yticklabels(y_ticklabels, fontfamily=SERIF, fontsize=34)
    if key == 'v':
        ax.set_xticklabels(x_ticklabels, fontfamily=SERIF, fontsize=34)
        ax.set_xlabel(r'$s$ [m]', fontfamily=SERIF, fontsize=34)
        ax.xaxis.set_label_coords(0.5, -0.104)
    else:
        ax.set_xticklabels([])
    ax.set_ylabel(ylab, fontfamily=SERIF, fontsize=34)
    ax.yaxis.set_label_coords(-0.043, 0.5)
    ax.tick_params(axis='both', direction='in', length=13, width=1.0, color='#262626',
                   labelcolor='#262626', top=True, right=True)
    ax.tick_params(axis='y', pad=10)
    ax.tick_params(axis='x', pad=14)
    for sp in ax.spines.values():
        sp.set_linewidth(1.0)
        sp.set_color('#262626')
    if key == 'h':
        legend_handles = [tr_line, bp_line, ax_line, ma_line]

# panel boxes
for ax, label, (x0, x1, y0, y1), (tx, ty) in (
        (ax_h, 'Horizontal', (0.02497, 0.1949, 0.8507, 0.9724), (0.1097, 0.8719)),
        (ax_v, 'Vertical', (0.0239, 0.1607, 0.8489, 0.9703), (0.0923, 0.8672))):
    ax.add_patch(Rectangle((x0, y0), x1 - x0, y1 - y0, transform=ax.transAxes,
                           facecolor='white', edgecolor='black', lw=1.5, zorder=20))
    ax.text(tx, ty, label, transform=ax.transAxes, fontfamily=SANS, fontsize=45,
            ha='center', va='baseline', zorder=21)

leg = ax_h.legend(legend_handles,
                  ['Particle trajectories', 'BPM reading', 'Aperture', 'Machine Axis'],
                  loc='upper right', bbox_to_anchor=(0.9824, 0.9653), borderaxespad=0,
                  prop={'family': SERIF, 'size': 34}, frameon=True, fancybox=False,
                  framealpha=1, edgecolor='black', facecolor='white', handlelength=1.85,
                  handletextpad=0.3, labelspacing=0.36, borderpad=0.22, numpoints=1)
leg.get_frame().set_linewidth(1.5)
leg.set_zorder(30)

# header
for label, cx in (('1st Turn', 624), ('2nd Turn', 1541)):
    fig.text(cx / W, 1 - 71 / H, label, fontfamily=SANS, fontsize=52, ha='center',
             va='baseline')
arrow_y = H - 46.5
for x_from, x_to in ((458, 193), (793, 1057), (1366, 1106), (1721, 1985)):
    fig.add_artist(FancyArrow(x_from, arrow_y, x_to - x_from, 0, width=9, head_width=34,
                              head_length=35, length_includes_head=True, color='black',
                              transform=IdentityTransform()))

fig.savefig('out.png', dpi=100, facecolor=fig.get_facecolor())
